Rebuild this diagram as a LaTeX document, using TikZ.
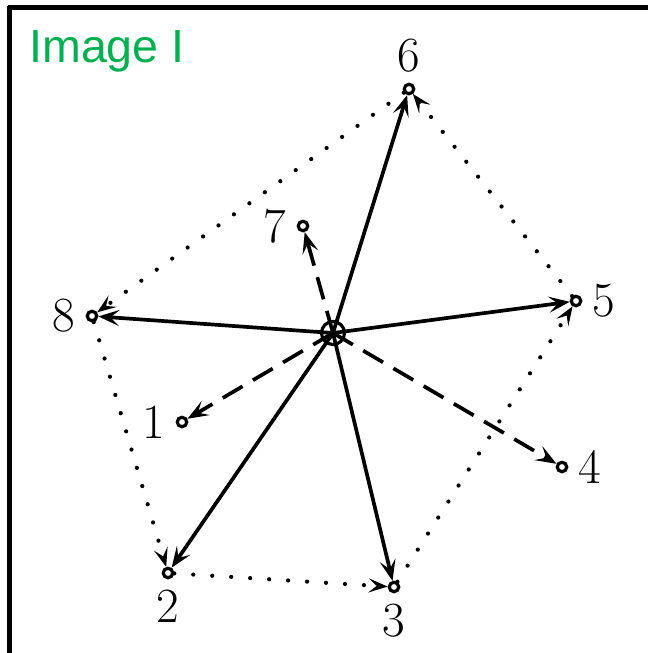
\documentclass[tikz,border=0pt]{standalone}
\usepackage{fontspec}
\newfontfamily\titlefont{Liberation Sans}
\usetikzlibrary{arrows.meta}
\definecolor{titlegreen}{RGB}{0,176,80}

\begin{document}
\begin{tikzpicture}[
    x=0.02cm, y=-0.02cm,
    pt/.style={draw, circle, line width=1.8pt, inner sep=0pt, minimum size=0.19cm},
    hub/.style={draw, circle, line width=1.8pt, inner sep=0pt, minimum size=0.46cm},
    every label/.style={font=\fontsize{28}{30}\selectfont, inner sep=0pt},
    label distance=0.2cm,
    spoke/.style={line width=2.1pt, -{Stealth[length=0.42cm, width=0.32cm, inset=0.18cm]}},
    weakspoke/.style={spoke, dash pattern=on 0.46cm off 0.24cm},
    rim/.style={spoke, line width=2.4pt, line cap=round, dash pattern=on 0pt off 0.38cm,
        -{Stealth[length=0.38cm, width=0.28cm, inset=0.16cm]}},
]
\useasboundingbox (0,0) rectangle (648,653);

% frame and title
\draw[line width=3pt] (8,7.5) -- (648,7.5);
\draw[line width=3pt] (9.5,6) -- (9.5,653);
\node[anchor=base west, inner sep=0pt, text=titlegreen, font=\titlefont\fontsize{26.5}{30}\selectfont] (title) at (29,62) {Image I};

% points
\node[hub] (c) at (333,333) {};
\node[pt, label=above:6] (p6) at (409,89) {};
\node[pt, label=left:7] (p7) at (303,226) {};
\node[pt, label=right:5] (p5) at (576,301) {};
\node[pt, label=left:8] (p8) at (92,316) {};
\node[pt, label=left:1] (p1) at (182,422) {};
\node[pt, label=right:4] (p4) at (562,467) {};
\node[pt, label=below:2] (p2) at (168,573) {};
\node[pt, label=below:3] (p3) at (394,587) {};

% spokes
\foreach \p in {p6,p5,p8,p2,p3}
    \draw[spoke] (c.center) -- (\p);
\foreach \p in {p7,p1,p4}
    \draw[weakspoke] (c.center) -- (\p);

% dotted rim
\draw[rim] (p2) -- (p3);
\draw[rim] (p3) -- (p5);
\draw[rim] (p5) -- (p6);
\draw[rim] (p6) -- (p8);
\draw[rim] (p8) -- (p2);
\end{tikzpicture}
\end{document}
